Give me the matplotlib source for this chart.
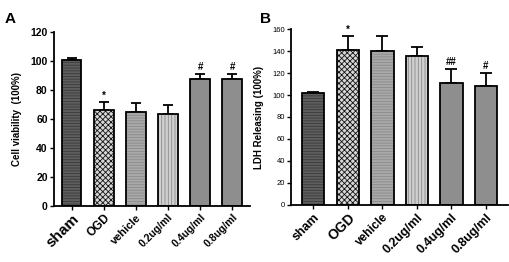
import numpy as np
import matplotlib
matplotlib.use("Agg")
import matplotlib.pyplot as plt

plt.rcParams.update({
    "font.family": ["Liberation Sans", "DejaVu Sans"],
    "hatch.linewidth": 0.6,
})

groups = ["sham", "OGD", "vehicle", "0.2ug/ml", "0.4ug/ml", "0.8ug/ml"]

viability = [101.0, 66.5, 64.5, 63.5, 87.3, 87.8]
viability_err = [1.0, 5.2, 6.2, 6.0, 4.0, 3.5]
viability_marks = ["", "*", "", "", "#", "#"]

ldh = [101.5, 141.0, 140.0, 135.5, 110.8, 108.6]
ldh_err = [0.8, 12.5, 13.8, 8.5, 13.0, 11.8]
ldh_marks = ["", "*", "", "", "##", "#"]

# fill / hatch per group
FACES = ["#5e5e5e", "#d8d8d8", "#a9a9a9", "#cfcfcf", "#8e8e8e", "#8e8e8e"]
HATCH_COL = ["#3a3a3a", "#111111", "#8a8a8a", "#8a8a8a", "#8e8e8e", "#8e8e8e"]
HATCHES = ["------", "xxxxxx", "------", "|||||", "", ""]


def draw_panel(ax, vals, errs, marks, ylim, yticks, ylabel, width, cap,
               tick_fs, tick_bold, label_sizes, mark_off):
    x = np.arange(len(groups))
    for i in range(len(groups)):
        ax.bar(x[i], vals[i], width=width, color=FACES[i], edgecolor=HATCH_COL[i],
               hatch=HATCHES[i], linewidth=0, zorder=2)
    ax.bar(x, vals, width=width, fill=False, edgecolor="black", linewidth=1.3, zorder=3)
    ax.errorbar(x, vals, yerr=[np.zeros(len(vals)), errs], fmt="none",
                ecolor="black", elinewidth=1.3, capsize=cap, capthick=1.3, zorder=1)
    for i, m in enumerate(marks):
        if m:
            ax.text(x[i], vals[i] + errs[i] + mark_off, m, ha="center", va="bottom",
                    fontsize=7, fontweight="bold")

    pad = 0.55 if width < 0.63 else 0.64
    ax.set_xlim(-pad, len(groups) - 1 + pad)
    ax.set_ylim(*ylim)
    ax.set_yticks(yticks)
    ax.set_yticklabels([str(t) for t in yticks], fontsize=tick_fs,
                       fontweight="bold" if tick_bold else "normal")
    ax.set_xticks(x)
    ax.set_xticklabels(groups, rotation=45, ha="right", rotation_mode="anchor")
    for lab, fs in zip(ax.get_xticklabels(), label_sizes):
        lab.set_fontsize(fs)
        lab.set_fontweight("bold")
    ax.set_ylabel(ylabel, fontsize=7, fontweight="bold", labelpad=6)
    for s in ["top", "right"]:
        ax.spines[s].set_visible(False)
    for s in ["left", "bottom"]:
        ax.spines[s].set_linewidth(1.3)
    ax.tick_params(axis="both", direction="out", length=3, width=1.0, pad=1.5)


fig = plt.figure(figsize=(5.09, 2.62), dpi=100)
axA = fig.add_axes([0.106, 0.214, 0.385, 0.664])
axB = fig.add_axes([0.572, 0.218, 0.426, 0.671])

draw_panel(axA, viability, viability_err, viability_marks, (0, 120),
           [0, 20, 40, 60, 80, 100, 120], "Cell viability  (100%)", 0.61, 3.6,
           7.5, True, [11, 8.5, 8, 7.5, 7.5, 7.5], 1.0)
draw_panel(axB, ldh, ldh_err, ldh_marks, (0, 160),
           [0, 20, 40, 60, 80, 100, 120, 140, 160], "LDH Releasing (100%)", 0.65, 4.5,
           5.5, False, [9, 10, 8.5, 9, 9, 9], 1.5)

fig.text(0.010, 0.955, "A", fontsize=11, fontweight="bold", va="top")
fig.text(0.511, 0.955, "B", fontsize=11, fontweight="bold", va="top")

fig.savefig("out.png", dpi=100)
